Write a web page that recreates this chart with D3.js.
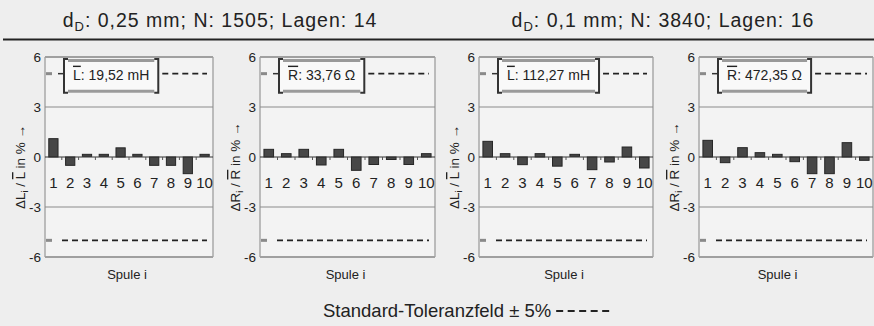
<!DOCTYPE html>
<html><head><meta charset="utf-8">
<script src="https://cdn.jsdelivr.net/npm/d3@7"></script>
<style>
html,body{margin:0;padding:0;background:#eeeeee;}
svg{display:block;font-family:"Liberation Sans",Arial,Helvetica,sans-serif;}
</style></head><body>
<svg id="chart" width="874" height="326"></svg>
<script>
// Coil numbers along each x axis
const spulen = ["1","2","3","4","5","6","7","8","9","10"];
// Winding data of the two coil groups
const groupTitles = ["0,25 mm; N: 1505; Lagen: 14", "0,1 mm; N: 3840; Lagen: 16"];
// Measured quantity and mean value per panel
const quantities = ["L", "R", "L", "R"];
const meanLabels = ["19,52 mH", "33,76 Ω", "112,27 mH", "472,35 Ω"];
// Relative deviation of each coil from the mean, in %
const devL025 = [1.1, -0.5, 0.1, 0.1, 0.55, 0.1, -0.5, -0.5, -1.0, 0.1];
const devR025 = [0.46, 0.2, 0.46, -0.48, 0.46, -0.8, -0.45, -0.15, -0.45, 0.2];
const devL01  = [0.94, 0.2, -0.46, 0.2, -0.55, 0.1, -0.76, -0.3, 0.6, -0.66];
const devR01  = [1.0, -0.34, 0.56, 0.26, 0.16, -0.28, -1.0, -1.0, 0.86, -0.2];
const yTicks = [6, 3, 0, -3, -6];
const tolerance = 5;
const footerText = "Standard-Toleranzfeld ± 5%";

const series = [devL025, devR025, devL01, devR01];
const svg = d3.select("#chart");

const plotTop = 57, plotBottom = 257;
const panelX = [[45, 213], [260, 435], [479, 653], [699, 873]];
const y = d3.scaleLinear().domain([-6, 6]).range([plotBottom, plotTop]);

// group headings and rule
const titleX = [220, 663];
groupTitles.forEach((t, i) => {
  const tx = svg.append("text").attr("x", titleX[i]).attr("y", 27)
    .attr("text-anchor", "middle").attr("font-size", 19.5)
    .attr("letter-spacing", 1).attr("fill", "#222");
  tx.append("tspan").text("d");
  tx.append("tspan").attr("font-size", 13).attr("dy", 4).text("D");
  tx.append("tspan").attr("dy", -4).text(": " + t);
});
svg.append("line").attr("x1", 3).attr("x2", 874).attr("y1", 39.5).attr("y2", 39.5)
  .attr("stroke", "#222").attr("stroke-width", 2);

series.forEach((vals, p) => {
  const [x0, x1] = panelX[p];
  const g = svg.append("g");
  const x = d3.scaleBand().domain(spulen).range([x0, x1])
    .paddingInner(0.45).paddingOuter(0.225);

  // plot background and frame
  g.append("rect").attr("x", x0).attr("y", plotTop).attr("width", x1 - x0)
    .attr("height", plotBottom - plotTop).attr("fill", "#f3f3f3");
  g.selectAll("line.v").data([x0, x1]).join("line")
    .attr("x1", d => d).attr("x2", d => d).attr("y1", plotTop).attr("y2", plotBottom)
    .attr("stroke", "#a8a8a8").attr("stroke-width", 1.5);

  // horizontal grid
  g.selectAll("line.grid").data(yTicks.filter(d => d !== 0)).join("line")
    .attr("x1", x0).attr("x2", x1)
    .attr("y1", d => y(d)).attr("y2", d => y(d))
    .attr("stroke", d => Math.abs(d) === 6 ? "#a0a0a0" : "#8c8c8c")
    .attr("stroke-width", d => Math.abs(d) === 6 ? 2 : 1.2);

  // y axis labels
  const ax = g.append("g").attr("transform", `translate(${x0},0)`)
    .call(d3.axisLeft(y).tickValues(yTicks).tickSize(0).tickPadding(4).tickFormat(d => String(d)));
  ax.select(".domain").remove();
  ax.selectAll("text").attr("font-size", 13.5).attr("fill", "#222")
    .attr("font-family", "Liberation Sans, Arial, sans-serif");

  // tolerance marks at the left edge
  g.selectAll("line.tm").data([tolerance, -tolerance]).join("line")
    .attr("x1", x0 + 1).attr("x2", x0 + 7)
    .attr("y1", d => y(d)).attr("y2", d => y(d))
    .attr("stroke", "#8a8a8a").attr("stroke-width", 3);

  // annotation box with the mean value
  const boxL = x0 + 19;
  const bTop = y(6) + 2, bBot = y(3.85);
  const boxBg = g.append("rect").attr("y", bTop).attr("height", bBot - bTop).attr("fill", "#f9f9f9");
  const lbl = g.append("text").attr("font-size", 14).attr("fill", "#222")
    .attr("y", y(tolerance) + 6);
  lbl.append("tspan").style("text-decoration", "overline").text(quantities[p]);
  lbl.append("tspan").text(": " + meanLabels[p]);
  const tw = lbl.node().getComputedTextLength();
  const boxR = boxL + tw + 18;
  lbl.attr("x", boxL + 9);
  boxBg.attr("x", boxL).attr("width", boxR - boxL);
  g.selectAll("line.hb").data([bTop + 1.5, bBot - 1.5]).join("line")
    .attr("x1", boxL + 4).attr("x2", boxR - 4)
    .attr("y1", d => d).attr("y2", d => d)
    .attr("stroke", "#9a9a9a").attr("stroke-width", 3);
  [[boxL, 1], [boxR, -1]].forEach(([bx, dir]) => {
    g.append("path")
      .attr("d", `M${bx + 4 * dir},${bTop}H${bx}V${bBot}H${bx + 4 * dir}`)
      .attr("fill", "none").attr("stroke", "#333").attr("stroke-width", 2);
  });
  g.append("line").attr("x1", boxL - 6).attr("x2", boxL)
    .attr("y1", y(tolerance)).attr("y2", y(tolerance))
    .attr("stroke", "#333").attr("stroke-width", 1.5);

  // tolerance dashed lines
  g.append("line").attr("x1", boxR + 4).attr("x2", x1 - 6)
    .attr("y1", y(tolerance)).attr("y2", y(tolerance))
    .attr("stroke", "#222").attr("stroke-width", 1.8).attr("stroke-dasharray", "6,4");
  g.append("line").attr("x1", x0 + 17).attr("x2", x1 - 6)
    .attr("y1", y(-tolerance)).attr("y2", y(-tolerance))
    .attr("stroke", "#222").attr("stroke-width", 1.8).attr("stroke-dasharray", "6,4");

  // bars
  g.selectAll("rect.bar").data(vals).join("rect").attr("class", "bar")
    .attr("x", (d, i) => x(spulen[i]))
    .attr("width", x.bandwidth())
    .attr("y", d => Math.min(y(d), y(0)) - (Math.abs(y(d) - y(0)) < 2 ? 1 : 0))
    .attr("height", d => Math.max(2, Math.abs(y(d) - y(0))))
    .attr("fill", "#474747").attr("stroke", "#262626").attr("stroke-width", 1);

  // zero line with separators between coils
  g.append("line").attr("x1", x0).attr("x2", x1).attr("y1", y(0)).attr("y2", y(0))
    .attr("stroke", "#333").attr("stroke-width", 1.2);
  g.selectAll("line.sep").data(spulen.slice(1)).join("line")
    .attr("x1", d => x(d) - x.step() * 0.225).attr("x2", d => x(d) - x.step() * 0.225)
    .attr("y1", y(0)).attr("y2", y(0) + 3)
    .attr("stroke", "#555").attr("stroke-width", 1);

  // coil numbers
  g.selectAll("text.cat").data(spulen).join("text")
    .attr("x", d => x(d) + x.bandwidth() / 2).attr("y", 188)
    .attr("text-anchor", "middle").attr("font-size", 15).attr("fill", "#222")
    .text(d => d);

  // y axis title
  const yl = g.append("text")
    .attr("transform", `translate(${x0 - 20},167) rotate(-90)`)
    .attr("text-anchor", "middle").attr("font-size", 13.5).attr("fill", "#222");
  yl.append("tspan").text("Δ" + quantities[p]);
  yl.append("tspan").attr("font-size", 9).attr("dy", 3).text("i");
  yl.append("tspan").attr("dy", -3).text(" / ");
  yl.append("tspan").style("text-decoration", "overline").text(quantities[p]);
  yl.append("tspan").text(" in % →");

  // x axis title
  g.append("text").attr("x", (x0 + Math.min(x1, 860)) / 2 - 2).attr("y", 279)
    .attr("text-anchor", "middle").attr("font-size", 13).attr("fill", "#222")
    .text("Spule i");
});

// footer legend for the tolerance band
const ft = svg.append("text").attr("x", 323).attr("y", 317)
  .attr("font-size", 18.5).attr("fill", "#222").text(footerText);
const fw = ft.node().getComputedTextLength();
svg.append("line").attr("x1", 323 + fw + 5).attr("x2", 323 + fw + 60)
  .attr("y1", 311).attr("y2", 311)
  .attr("stroke", "#222").attr("stroke-width", 1.8).attr("stroke-dasharray", "7,4.5");
</script>
</body></html>
